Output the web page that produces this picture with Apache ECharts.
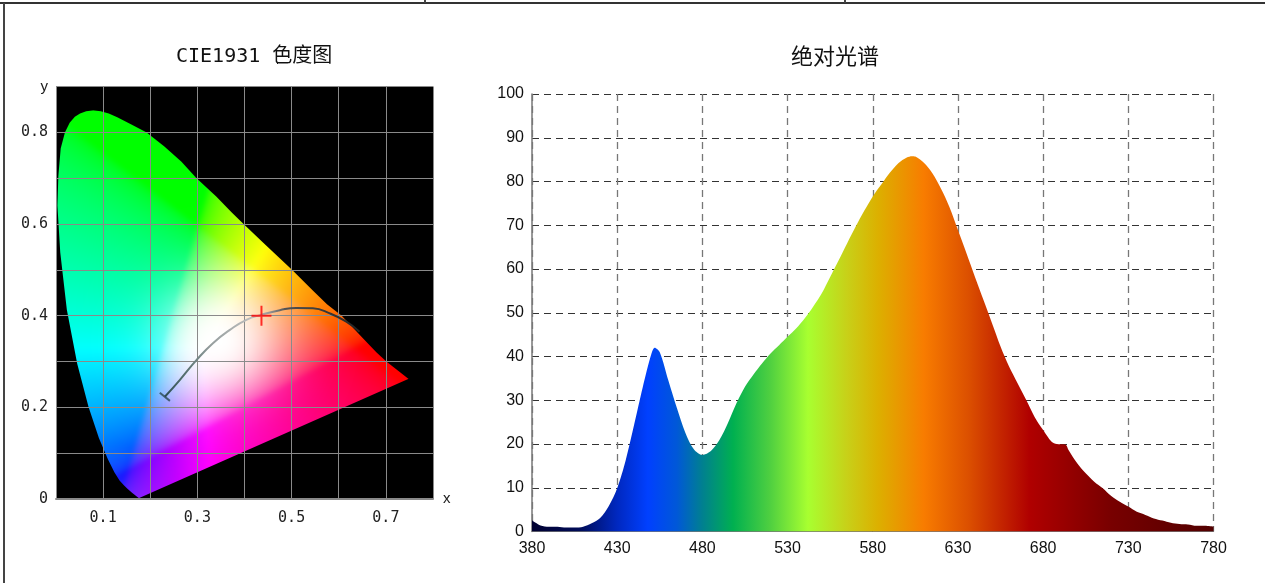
<!DOCTYPE html>
<html>
<head>
<meta charset="utf-8">
<script src="https://cdn.jsdelivr.net/npm/echarts@6/dist/echarts.min.js"></script>
<style>
html,body{margin:0;padding:0;background:#fff;}
#main{width:1265px;height:583px;}
</style>
</head>
<body>
<div id="main"></div>
<script>
// ---------------- DATA ----------------
// CIE 1931 spectral locus outline [x, y]
const locusXY = [
  [0.176, 0.002], [0.172, 0.005], [0.167, 0.009], [0.161, 0.014], [0.151, 0.023],
  [0.144, 0.030], [0.135, 0.040], [0.124, 0.058], [0.110, 0.087], [0.091, 0.133],
  [0.069, 0.201], [0.045, 0.295], [0.023, 0.413], [0.009, 0.538], [0.003, 0.640],
  [0.005, 0.705], [0.010, 0.765], [0.019, 0.800], [0.029, 0.821], [0.040, 0.834],
  [0.051, 0.841], [0.064, 0.846], [0.079, 0.848], [0.095, 0.846], [0.112, 0.841],
  [0.130, 0.833], [0.160, 0.817], [0.192, 0.800], [0.230, 0.769],
  [0.266, 0.736], [0.298, 0.700], [0.340, 0.660], [0.373, 0.625], [0.398, 0.600],
  [0.444, 0.555], [0.501, 0.500], [0.545, 0.455], [0.575, 0.425], [0.606, 0.400],
  [0.650, 0.352], [0.680, 0.320], [0.701, 0.300], [0.722, 0.283], [0.748, 0.262]
];
// Planckian (black body) curve
const planckX = [0.231, 0.263, 0.298, 0.333, 0.369, 0.404, 0.436, 0.475, 0.510, 0.545, 0.581, 0.616, 0.644];
const planckY = [0.223, 0.260, 0.303, 0.340, 0.369, 0.391, 0.402, 0.412, 0.417, 0.416, 0.405, 0.387, 0.365];
// measured chromaticity point
const pointXY = [0.436, 0.400];
const cieXTickLabels = ['0.1', '0.3', '0.5', '0.7'];
const cieYTickLabels = ['0', '0.2', '0.4', '0.6', '0.8'];

// absolute spectrum
const wavelengths = [380,385,390,395,400,405,410,415,420,425,430,435,440,445,450,452,455,460,465,470,475,480,485,490,495,500,505,510,515,520,525,530,535,540,545,550,555,560,565,570,575,580,585,590,595,600,603,605,610,615,620,625,630,635,640,645,650,655,660,665,670,675,680,685,688,693,695,700,705,710,715,720,725,730,735,740,745,750,755,760,765,770,775,780];
const intensity   = [2.6,1.4,1.1,1.1,0.9,0.9,1.1,1.9,3.1,5.8,9.9,16.3,24.5,33.0,40.5,42.0,41.0,34.6,28.3,22.6,18.8,17.5,18.4,20.9,24.8,29.3,33.1,35.9,38.4,40.7,42.6,44.5,46.4,48.7,51.4,54.4,58.2,62.0,65.9,69.7,73.3,76.6,79.3,82.0,84.2,85.5,85.8,85.7,84.3,81.9,78.4,74.2,68.9,63.6,58.2,52.9,47.6,42.3,37.7,33.9,30.1,26.2,23.2,20.5,20.0,19.9,18.6,15.6,13.3,11.4,9.9,8.1,6.8,5.7,4.5,3.8,3.0,2.5,2.0,1.7,1.6,1.3,1.3,1.1];
const specTickLabels = ['380','430','480','530','580','630','680','730','780'];

// ---------------- HELPERS ----------------
const CIE_X_MAX = 0.8, CIE_Y_MAX = 0.9;
function chromaToRGB(x, y) {
  if (y < 0.004) y = 0.004;
  if (x < 0) x = 0;
  const X = x / y, Y = 1, Z = Math.max(0, 1 - x - y) / y;
  let r = 3.2406 * X - 1.5372 * Y - 0.4986 * Z;
  let g = -0.9689 * X + 1.8758 * Y + 0.0415 * Z;
  let b = 0.0557 * X - 0.2040 * Y + 1.0570 * Z;
  r = Math.max(0, r); g = Math.max(0, g); b = Math.max(0, b);
  const m = Math.max(r, g, b) || 1;
  const dx = x - 0.345, dy = y - 0.345;
  const wgt = Math.exp(-(dx * dx + dy * dy) / (2 * 0.085 * 0.085));
  // slight lift of the deep blue corner (the reference renders it as a lighter blue)
  const lift = Math.max(0, 1 - y / 0.12) * Math.max(0, 1 - Math.abs(x - 0.14) / 0.12) * 0.18;
  const f = v => {
    v = v / m;
    v = v <= 0.0031308 ? 12.92 * v : 1.055 * Math.pow(v, 1 / 2.4) - 0.055;
    v = v + (1 - v) * Math.max(wgt, lift);
    return Math.round(255 * Math.min(1, Math.max(0, v)));
  };
  return [f(r), f(g), f(b)];
}
let fieldCache = null;
function renderField(params, api) {
  if (params.dataIndex !== 0) return null;
  const tl = api.coord([0, CIE_Y_MAX]);
  const br = api.coord([CIE_X_MAX, 0]);
  const w = br[0] - tl[0], h = br[1] - tl[1];
  if (!fieldCache || Math.abs(fieldCache.w - w) > 0.5 || Math.abs(fieldCache.h - h) > 0.5) {
    // raw colour field (with padding so that the blur does not fade at the borders)
    const P = 24;
    const A = document.createElement('canvas');
    A.width = Math.round(w) + 2 * P; A.height = Math.round(h) + 2 * P;
    const actx = A.getContext('2d');
    const img = actx.createImageData(A.width, A.height);
    const d = img.data;
    for (let j = 0; j < A.height; j++) {
      for (let i = 0; i < A.width; i++) {
        const k = (j * A.width + i) * 4;
        const cx = CIE_X_MAX * (i - P + 0.5) / w;
        const cy = CIE_Y_MAX * (1 - (j - P + 0.5) / h);
        const c = chromaToRGB(cx, cy);
        d[k] = c[0]; d[k + 1] = c[1]; d[k + 2] = c[2]; d[k + 3] = 255;
      }
    }
    actx.putImageData(img, 0, 0);
    // blurred and clipped by the locus
    const s = 2;
    const cv = document.createElement('canvas');
    cv.width = Math.round(w * s); cv.height = Math.round(h * s);
    const ctx = cv.getContext('2d');
    ctx.setTransform(s, 0, 0, s, 0, 0);
    ctx.filter = 'blur(5px)';
    ctx.drawImage(A, -P, -P);
    ctx.filter = 'none';
    ctx.globalCompositeOperation = 'destination-in';
    ctx.beginPath();
    locusXY.forEach((p, i) => {
      const c = api.coord(p);
      const px = c[0] - tl[0], py = c[1] - tl[1];
      if (i) ctx.lineTo(px, py); else ctx.moveTo(px, py);
    });
    ctx.closePath();
    ctx.fillStyle = '#fff';
    ctx.fill();
    fieldCache = { w: w, h: h, cv: cv };
  }
  return { type: 'image', style: { image: fieldCache.cv, x: tl[0], y: tl[1], width: w, height: h } };
}
function cieFmt(v) { return Math.abs(v) < 1e-9 ? '0' : v.toFixed(1); }

const monoFont = '"DejaVu Sans Mono", "Noto Sans CJK SC", monospace';
const sansFont = '"Liberation Sans", Arial, sans-serif';

const chart = echarts.init(document.getElementById('main'), null, { renderer: 'canvas' });
const option = {
  animation: false,
  backgroundColor: '#fff',
  title: [
    { text: 'CIE1931 色度图', left: 171, top: 42, textStyle: { fontFamily: monoFont, fontSize: 20, fontWeight: 'normal', color: '#111' } },
    { text: '绝对光谱', left: 786, top: 40, textStyle: { fontFamily: '"Noto Sans CJK SC", sans-serif', fontSize: 22, fontWeight: 'normal', color: '#111' } }
  ],
  graphic: [
    { type: 'line', shape: { x1: 0, y1: 3, x2: 1265, y2: 3 }, style: { stroke: '#333', lineWidth: 2 } },
    { type: 'line', shape: { x1: 4, y1: 3, x2: 4, y2: 583 }, style: { stroke: '#444', lineWidth: 2 } },
    { type: 'line', shape: { x1: 425, y1: 0, x2: 425, y2: 3 }, style: { stroke: '#444', lineWidth: 2 } },
    { type: 'line', shape: { x1: 845, y1: 0, x2: 845, y2: 3 }, style: { stroke: '#444', lineWidth: 2 } }
  ],
  grid: [
    { left: 56, top: 86.5, width: 377, height: 412.5, show: true, backgroundColor: '#000', borderWidth: 0 },
    { left: 532, top: 94, width: 681.5, height: 437.5 }
  ],
  xAxis: [
    {
      gridIndex: 0, type: 'value', min: 0, max: CIE_X_MAX, interval: 0.1, z: 3,
      name: 'x', nameLocation: 'end', nameGap: 10,
      nameTextStyle: { fontFamily: sansFont, fontSize: 15, color: '#222' },
      axisLine: { show: true, lineStyle: { color: '#8a8a8a', width: 2 } },
      axisTick: { show: false },
      splitLine: { show: true, lineStyle: { color: '#8a8a8a', width: 1 } },
      axisLabel: { margin: 12, fontFamily: monoFont, fontSize: 15, color: '#222',
        formatter: v => { const s = cieFmt(v); return cieXTickLabels.indexOf(s) >= 0 ? s : ''; } }
    },
    { gridIndex: 1, type: 'value', min: 380, max: 780, show: false },
    {
      gridIndex: 1, type: 'category', position: 'bottom', data: specTickLabels, boundaryGap: false,
      axisLine: { show: true, lineStyle: { color: '#777', width: 1 } },
      axisTick: { show: false },
      splitLine: { show: true, interval: 0, lineStyle: { color: '#777', width: 1.3, type: [7, 5] } },
      axisLabel: { interval: 0, margin: 9, fontFamily: sansFont, fontSize: 16, color: '#111' }
    }
  ],
  yAxis: [
    {
      gridIndex: 0, type: 'value', min: 0, max: CIE_Y_MAX, interval: 0.1, z: 3,
      name: 'y', nameLocation: 'end', nameGap: 0,
      nameTextStyle: { fontFamily: sansFont, fontSize: 15, color: '#222', align: 'right', verticalAlign: 'middle', padding: [0, 8, 4, 0] },
      axisLine: { show: true, lineStyle: { color: '#8a8a8a', width: 1 } },
      axisTick: { show: false },
      splitLine: { show: true, lineStyle: { color: '#8a8a8a', width: 1 } },
      axisLabel: { margin: 8, fontFamily: monoFont, fontSize: 15, color: '#222',
        formatter: v => { const s = cieFmt(v); return cieYTickLabels.indexOf(s) >= 0 ? s : ''; } }
    },
    {
      gridIndex: 1, type: 'value', min: 0, max: 100, interval: 10,
      axisLine: { show: true, lineStyle: { color: '#777', width: 1.5 } },
      axisTick: { show: false },
      splitLine: { show: true, lineStyle: { color: '#333', width: 1.2, type: [7, 5] } },
      axisLabel: { margin: 8, fontFamily: sansFont, fontSize: 16, color: '#111' }
    }
  ],
  series: [
    {
      type: 'custom', xAxisIndex: 0, yAxisIndex: 0, z: 2, silent: true,
      data: locusXY, renderItem: renderField
    },
    {
      type: 'line', xAxisIndex: 0, yAxisIndex: 0, z: 4, smooth: true, showSymbol: false, silent: true,
      data: planckX.map((x, i) => [x, planckY[i]]),
      lineStyle: { width: 2, color: new echarts.graphic.LinearGradient(0, 0, 1, 0, [
        { offset: 0, color: '#2a4a52' }, { offset: 0.12, color: '#587272' }, { offset: 0.25, color: '#98a0a0' },
        { offset: 0.45, color: '#bdbdbd' }, { offset: 0.53, color: '#9a9a9a' }, { offset: 0.62, color: '#505050' },
        { offset: 1, color: '#222' }]) }
    },
    {
      type: 'scatter', xAxisIndex: 0, yAxisIndex: 0, z: 5, silent: true,
      data: [[planckX[0], planckY[0]]], symbol: 'rect', symbolSize: [13, 2], symbolRotate: -39,
      itemStyle: { color: '#2a4a52' }
    },
    {
      type: 'scatter', xAxisIndex: 0, yAxisIndex: 0, z: 6, silent: true,
      data: [pointXY], symbol: 'path://M-1,-10H1V10H-1Z M-10,-1H10V1H-10Z', symbolSize: 20,
      itemStyle: { color: '#ff0000' }
    },
    {
      type: 'line', xAxisIndex: 1, yAxisIndex: 1, z: 2, smooth: 0.3, showSymbol: false, silent: true,
      data: wavelengths.map((w, i) => [w, intensity[i]]),
      lineStyle: { width: 0 },
      areaStyle: { opacity: 1, color: new echarts.graphic.LinearGradient(0, 0, 1, 0, [
        { offset: 0, color: '#000030' }, { offset: 0.07, color: '#000c58' }, { offset: 0.125, color: '#0028c0' },
        { offset: 0.17, color: '#0040ff' }, { offset: 0.2125, color: '#0058d8' }, { offset: 0.25, color: '#008090' },
        { offset: 0.295, color: '#00b050' }, { offset: 0.35, color: '#50d040' }, { offset: 0.405, color: '#a8ff30' },
        { offset: 0.4625, color: '#c8d018' }, { offset: 0.5075, color: '#dcb000' }, { offset: 0.575, color: '#f87c00' },
        { offset: 0.64, color: '#dc5000' }, { offset: 0.73, color: '#b00000' }, { offset: 0.85, color: '#780000' },
        { offset: 1, color: '#520000' }]) }
    }
  ]
};
chart.setOption(option);
</script>
</body>
</html>
